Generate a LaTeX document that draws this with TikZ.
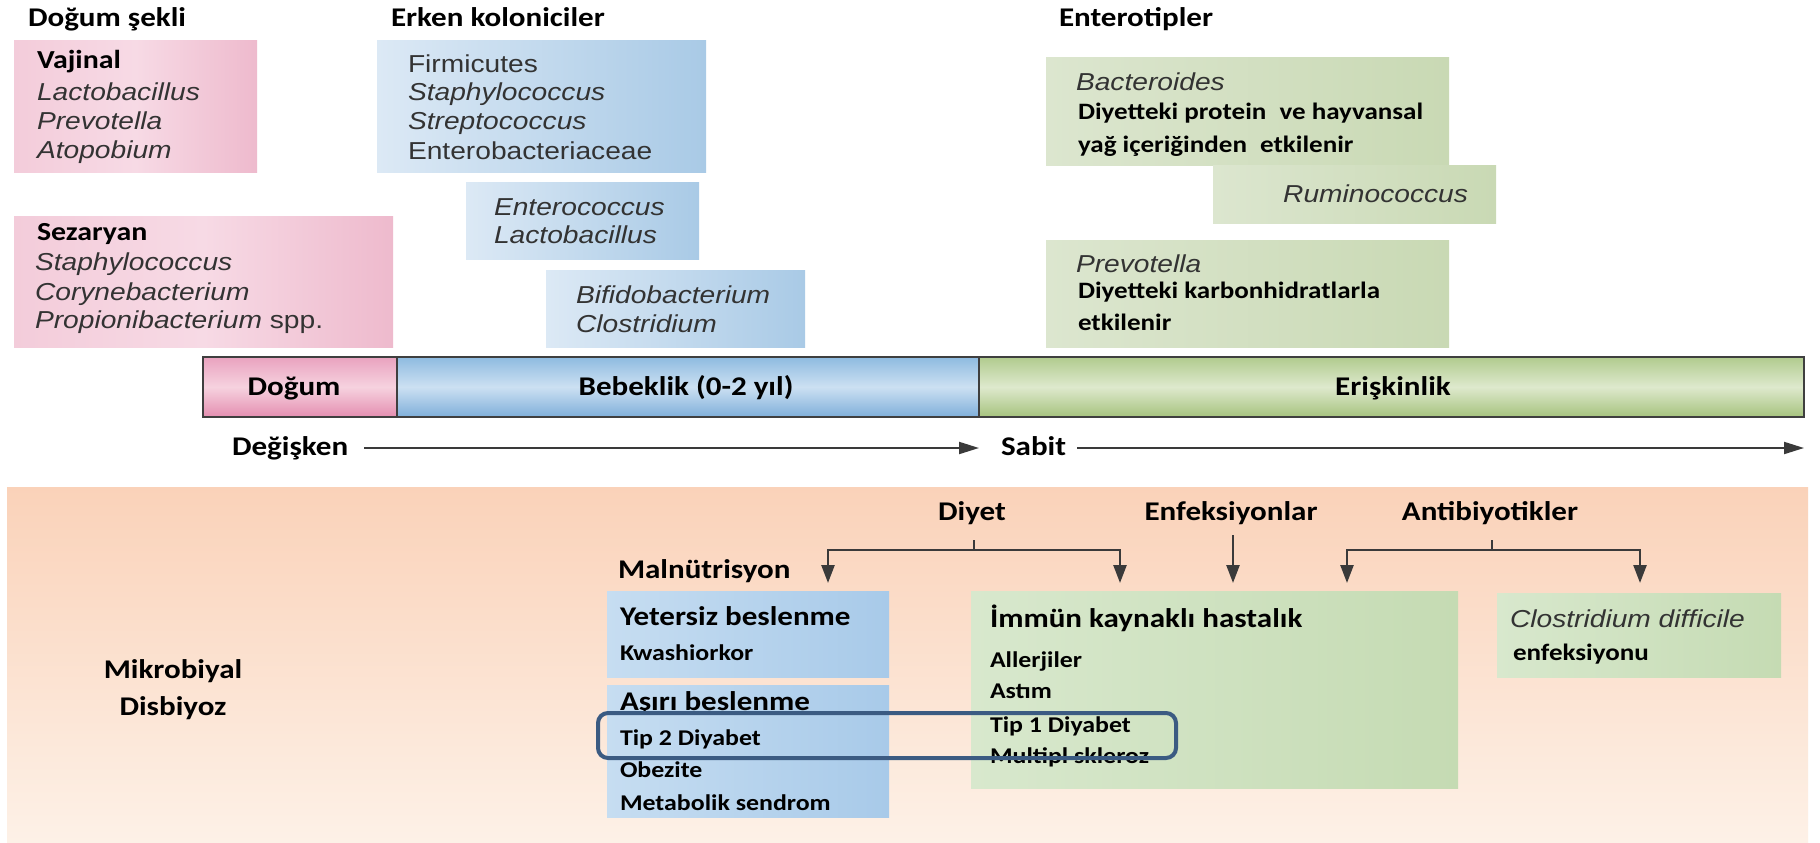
\documentclass[tikz,border=0pt]{standalone}
\usepackage{fontspec}
\newfontfamily\calb{Carlito}[FakeStretch=1.15]
\newfontfamily\ari{Liberation Sans}[FakeStretch=1.15]
\usetikzlibrary{arrows.meta}
\definecolor{bact}{HTML}{333333}
\definecolor{arrc}{HTML}{3A3A3A}
\definecolor{pinkL}{HTML}{F3CCDA}
\definecolor{pinkM}{HTML}{F7DAE5}
\definecolor{pinkR}{HTML}{EEBACD}
\definecolor{blueL}{HTML}{DCE9F5}
\definecolor{blueR}{HTML}{A9CAE6}
\definecolor{greenL}{HTML}{DCE6CF}
\definecolor{greenR}{HTML}{C9D9B4}
\definecolor{bpT}{HTML}{E9A2BF}
\definecolor{bpM}{HTML}{F6D2DF}
\definecolor{bpB}{HTML}{E48EB0}
\definecolor{bbT}{HTML}{8EBBE0}
\definecolor{bbM}{HTML}{CCE0F2}
\definecolor{bbB}{HTML}{7FAFDA}
\definecolor{bgT}{HTML}{B1CB8E}
\definecolor{bgM}{HTML}{DEE9CD}
\definecolor{bgB}{HTML}{A6C37E}
\definecolor{orT}{HTML}{FAD2B9}
\definecolor{orB}{HTML}{FDF1E7}
\definecolor{dbL}{HTML}{C6DDF1}
\definecolor{dbR}{HTML}{A8CAE9}
\definecolor{dgL}{HTML}{D8E8CD}
\definecolor{dgR}{HTML}{C5DBB3}
\definecolor{rectc}{HTML}{3B5B82}
\definecolor{barline}{HTML}{3F3F3F}
\newcommand\boxat[5]{\node[inner sep=0pt,outer sep=0pt,anchor=north west,minimum width={#4pt-#2pt},minimum height={#5pt-#3pt},#1] at (#2,#3) {};}
\tikzset{
  T/.style={inner sep=0pt, outer sep=0pt, anchor=base west},
  hd/.style={T, font=\calb\bfseries\fontsize{27}{30}\selectfont},
  sm/.style={T, font=\calb\bfseries\fontsize{22.5}{25}\selectfont},
  smg/.style={T, font=\calb\bfseries\fontsize{23.5}{26}\selectfont},
  it/.style={T, font=\ari\itshape\fontsize{24.5}{27}\selectfont, text=bact},
  rg/.style={T, font=\ari\fontsize{24.5}{27}\selectfont, text=bact},
  ln/.style={draw=arrc, line width=2.5pt},
  arr/.style={ln, -{Triangle[width=13pt,length=18pt]}},
  tarr/.style={draw=arrc, line width=2pt, -{Triangle[width=12pt,length=20pt]}},
}
\begin{document}
\begin{tikzpicture}[x=1pt,y=-1pt]
\useasboundingbox (0,0) rectangle (1820,843);
\fill[white] (0,0) rectangle (1820,843);

% ---------- top headings ----------
\node[hd] (h1) at (28,27) {Doğum şekli};
\node[hd] (h2) at (391,27) {Erken koloniciler};
\node[hd] (h3) at (1059,27) {Enterotipler};

% ---------- pink boxes ----------
\boxat{name=vajbox, left color=pinkL, right color=pinkR, middle color=pinkM}{14}{41}{257}{172}
\node[hd, font=\calb\bfseries\fontsize{26}{28}\selectfont] (vaj) at (37,68) {Vajinal};
\node[it] (v1) at (37,100) {Lactobacillus};
\node[it] (v2) at (37,129) {Prevotella};
\node[it] (v3) at (37,158) {Atopobium};

\boxat{name=sezbox, left color=pinkL, right color=pinkR, middle color=pinkM}{14}{216}{393}{347}
\node[hd, font=\calb\bfseries\fontsize{26}{28}\selectfont] (sez) at (37,240) {Sezaryan};
\node[it] (s1) at (35,270) {Staphylococcus};
\node[it] (s2) at (35,300) {Corynebacterium};
\node[rg] (s3) at (35,328) {\itshape Propionibacterium\upshape{} spp.};

% ---------- blue boxes ----------
\boxat{name=ek1, left color=blueL, right color=blueR}{377}{41}{706}{172}
\node[rg] (e1) at (408,72) {Firmicutes};
\node[it] (e2) at (408,100) {Staphylococcus};
\node[it] (e3) at (408,129) {Streptococcus};
\node[rg] (e4) at (408,159) {Enterobacteriaceae};

\boxat{name=ek2, left color=blueL, right color=blueR}{466}{182}{699}{259}
\node[it] (e5) at (494,215) {Enterococcus};
\node[it] (e6) at (494,243) {Lactobacillus};

\boxat{name=ek3, left color=blueL, right color=blueR}{546}{270}{805}{347}
\node[it] (e7) at (576,303) {Bifidobacterium};
\node[it] (e8) at (576,332) {Clostridium};

% ---------- green enterotype boxes ----------
\boxat{name=gb1, left color=greenL, right color=greenR}{1046}{58}{1449}{165}
\boxat{name=gb2, left color=greenL, right color=greenR}{1213}{165}{1496}{223}
\boxat{name=gb3, left color=greenL, right color=greenR}{1046}{240}{1449}{347}
\node[it] (g1) at (1076,90) {Bacteroides};
\node[smg] (g2) at (1078,119) {Diyetteki protein\hspace{7pt} ve hayvansal};
\node[smg] (g3) at (1078,152) {yağ içeriğinden\hspace{7pt} etkilenir};
\node[it, anchor=base east] (g4) at (1468,202) {Ruminococcus};
\node[it] (g5) at (1076,272) {Prevotella};
\node[smg] (g6) at (1078,298) {Diyetteki karbonhidratlarla};
\node[smg] (g7) at (1078,330) {etkilenir};

% ---------- timeline bar ----------
\boxat{name=barP, top color=bpT, bottom color=bpB, middle color=bpM}{203}{357}{397}{417}
\boxat{name=barB, top color=bbT, bottom color=bbB, middle color=bbM}{397}{357}{979}{417}
\boxat{name=barG, top color=bgT, bottom color=bgB, middle color=bgM}{979}{357}{1804}{417}
\draw[barline, line width=2pt] (barP.north west) rectangle (barG.south east);
\draw[barline, line width=2pt] (barP.north east) -- (barP.south east);
\draw[barline, line width=2pt] (barB.north east) -- (barB.south east);
\node[hd, anchor=base] (l1) at (294,395) {Doğum};
\node[hd, anchor=base] (l2) at (686,395) {Bebeklik (0-2 yıl)};
\node[hd, anchor=base] (l3) at (1393,395) {Erişkinlik};

\node[hd] (deg) at (232,455) {Değişken};
\coordinate (degE) at (979,448);
\draw[tarr] (deg.east |- degE) ++(16,0) -- (degE);
\node[hd] (sab) at (1001,455) {Sabit};
\coordinate (sabE) at (1804,448);
\draw[tarr] (sab.east |- sabE) ++(11,0) -- (sabE);

% ---------- bottom panel ----------
\shade[top color=orT, bottom color=orB] (7,487) rectangle (1808,843);

\node[hd, anchor=base] (mik) at (173,678) {Mikrobiyal};
\node[hd, anchor=base] (dis) at (173,715) {Disbiyoz};

\node[hd, anchor=base] (diyet) at (972,520) {Diyet};
\node[hd, anchor=base] (enf) at (1231,520) {Enfeksiyonlar};
\node[hd, anchor=base] (ant) at (1490,520) {Antibiyotikler};

\coordinate (dT) at (974,540);
\coordinate (dJ) at (974,550);
\coordinate (dA) at (828,583);
\coordinate (dB) at (1120,583);
\draw[ln] (dT) -- (dJ);
\draw[arr] (dJ) -| (dA);
\draw[arr] (dJ) -| (dB);

\coordinate (eT) at (1233,535);
\coordinate (eA) at (1233,583);
\draw[arr] (eT) -- (eA);

\coordinate (aT) at (1492,540);
\coordinate (aJ) at (1492,550);
\coordinate (aA) at (1347,583);
\coordinate (aB) at (1640,583);
\draw[ln] (aT) -- (aJ);
\draw[arr] (aJ) -| (aA);
\draw[arr] (aJ) -| (aB);

\node[hd] (mal) at (618,578) {Malnütrisyon};

\boxat{name=yb, left color=dbL, right color=dbR}{607}{591}{889}{677}
\node[hd] (y1) at (620,625) {Yetersiz beslenme};
\node[sm] (y2) at (620,660) {Kwashiorkor};

\boxat{name=ab, left color=dbL, right color=dbR}{607}{685}{889}{817}
\node[hd] (a1) at (620,710) {Aşırı beslenme};
\node[sm] (a2) at (620,745) {Tip 2 Diyabet};
\node[sm] (a3) at (620,777) {Obezite};
\node[sm] (a4) at (620,810) {Metabolik sendrom};

\boxat{name=ib, left color=dgL, right color=dgR}{971}{591}{1458}{788}
\node[hd] (i1) at (990,627) {İmmün kaynaklı hastalık};
\node[sm] (i2) at (990,667) {Allerjiler};
\node[sm] (i3) at (990,698) {Astım};
\node[sm] (i4) at (990,732) {Tip 1 Diyabet};
\node[sm] (i5) at (990,763) {Multipl skleroz};

\boxat{name=cb, left color=dgL, right color=dgR}{1497}{593}{1781}{677}
\node[it] (c1) at (1510,627) {Clostridium difficile};
\node[sm, font=\calb\bfseries\fontsize{23.5}{26}\selectfont] (c2) at (1513,660) {enfeksiyonu};

\draw[rectc, line width=4pt, rounded corners=10pt] (598,713) rectangle (1176,758);
\end{tikzpicture}
\end{document}
